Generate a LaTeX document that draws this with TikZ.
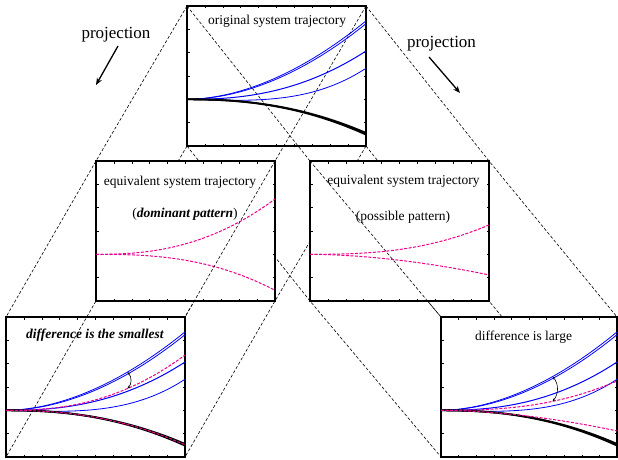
\documentclass[tikz,border=0pt]{standalone}
\usepackage{fontspec}
\setmainfont{Liberation Serif}
\usetikzlibrary{arrows.meta,backgrounds}
\newcommand\pwrcurve[3]{\draw[#1] (0,1/3) -- plot[domain=0.02:1,samples=45,smooth] (\x,{1/3+#2*pow(\x,#3)});}
\newcommand\drawtraj{%
  \pwrcurve{blueln}{0.56}{1.85}
  \pwrcurve{blueln}{0.54}{1.9}
  \pwrcurve{blueln,line width=1pt}{0.345}{2.4}
  \draw[blueln] (0,1/3) -- plot[domain=0.02:1,samples=45,smooth] (\x,{1/3-0.012*sin(180*\x)+0.222*pow(\x,3.6)});
  \pwrcurve{blackln}{-0.252}{2.3}
  \pwrcurve{blackln}{-0.24}{2.3}
}
\newcommand\drawticks{%
  \foreach \i in {1,...,9}{\draw[tick] (\i/10,0) -- ++(0pt,2.5pt); \draw[tick] (\i/10,1) -- ++(0pt,-2.5pt);}
  \foreach \j in {1,...,5}{\draw[tick] (0,\j/6) -- ++(2.5pt,0pt); \draw[tick] (1,\j/6) -- ++(-2.5pt,0pt);}
}
\begin{document}
\begin{tikzpicture}[x=1pt,y=-1pt,
  panel/.style={draw=black,line width=1.5pt,minimum width=179pt,minimum height=140pt,inner sep=0pt,outer sep=0pt,anchor=north west},
  proj/.style={black,line width=0.6pt,dash pattern=on 3pt off 2pt},
  tick/.style={black,line width=0.6pt},
  blueln/.style={blue,line width=0.8pt},
  blackln/.style={black,line width=1.8pt},
  magdash/.style={magenta,line width=1pt,dash pattern=on 3pt off 1.5pt},
  lbl/.style={font=\fontsize{13.5}{16}\selectfont,inner sep=0pt},
  projlbl/.style={font=\fontsize{17}{20}\selectfont,inner sep=0pt},
  parrow/.style={black,line width=1.3pt,-{Stealth[length=7pt,width=5.5pt]}},
  diffarc/.style={black,line width=0.6pt,{Stealth[length=3pt,width=2.6pt]}-{Stealth[length=3pt,width=2.6pt]}}
]
\useasboundingbox (0,0) rectangle (618,460);
% panels
\node[panel] (top) at (187,6) {};
\node[panel,fill=white,line width=2pt] (ml) at (96,161) {};
\node[panel,fill=white,line width=2pt] (mr) at (310,161) {};
\node[panel] (bl) at (6,317) {};
\node[panel,fill=white,minimum width=176pt] (br) at (441,317) {};
% projection lines (behind the opaque panels)
\begin{scope}[on background layer]
\fill[white] (0,0) rectangle (618,460);
\draw[proj] (top.north west) -- (ml.north west) -- (bl.north west);
\draw[proj] (top.north east) -- (ml.north east) -- (bl.north east);
\draw[proj] (top.south west) -- (ml.south west) -- (bl.south west);
\draw[proj] (top.south east) -- (ml.south east) -- (bl.south east);
\draw[proj] (top.north west) -- (mr.north west) -- (br.north west);
\draw[proj] (top.north east) -- (mr.north east) -- (br.north east);
\draw[proj] (top.south west) -- (mr.south west) -- (br.south west);
\draw[proj] (top.south east) -- (mr.south east) -- (br.south east);
\end{scope}
% top panel: original system trajectory
\begin{scope}[shift={(top.south west)},x=179pt,y=140pt]
\drawticks
\drawtraj
\end{scope}
% middle left
\begin{scope}[shift={(ml.south west)},x=179pt,y=140pt]
\drawticks
\pwrcurve{magdash}{0.395}{2.4}
\pwrcurve{magdash}{-0.257}{2.6}
\end{scope}
% middle right
\begin{scope}[shift={(mr.south west)},x=179pt,y=140pt]
\drawticks
\pwrcurve{magdash}{0.21}{2.6}
\pwrcurve{magdash}{-0.147}{1.8}
\end{scope}
% bottom left
\begin{scope}[shift={(bl.south west)},x=179pt,y=140pt]
\drawticks
\drawtraj
\pwrcurve{magdash}{0.395}{2.4}
\pwrcurve{magdash}{-0.246}{2.3}
\coordinate (dA1) at (0.678,{1/3+0.56*pow(0.678,1.85)});
\coordinate (dA2) at (0.678,{1/3+0.395*pow(0.678,2.4)});
\draw[diffarc] (dA1) to[bend left=45] (dA2);
\end{scope}
% bottom right
\begin{scope}[shift={(br.south west)},x=176pt,y=140pt]
\drawticks
\drawtraj
\pwrcurve{magdash}{0.21}{2.6}
\pwrcurve{magdash}{-0.147}{1.8}
\coordinate (dB1) at (0.634,{1/3+0.56*pow(0.634,1.85)});
\coordinate (dB2) at (0.634,{1/3+0.21*pow(0.634,2.6)});
\draw[diffarc] (dB1) to[bend left=40] (dB2);
\end{scope}
% projection lines drawn over the middle panels
\draw[proj] (ml.north east) -- (bl.north east);
\draw[proj] (mr.north west) -- (br.north west);
% labels
\node[lbl] (t1) at (277,21) {original system trajectory};
\node[lbl] (t2) at (180,182) {equivalent system trajectory};
\node[lbl] (t3) at (185,214.5) {(\textbf{\textit{dominant pattern}})};
\node[lbl] (t4) at (403.5,181.5) {equivalent system trajectory};
\node[lbl] (t5) at (403,217.5) {(possible pattern)};
\node[lbl] (t6) at (95,335.5) {\textbf{\textit{difference is the smallest}}};
\node[lbl] (t7) at (523.5,337.5) {difference is large};
\node[projlbl] (pL) at (116,35) {projection};
\node[projlbl] (pR) at (441.5,43.7) {projection};
\coordinate (pLs) at (118,46);
\coordinate (pLe) at (96,85);
\coordinate (pRs) at (429,57);
\coordinate (pRe) at (460,93);
\draw[parrow] (pLs) -- (pLe);
\draw[parrow] (pRs) -- (pRe);
\end{tikzpicture}
\end{document}
